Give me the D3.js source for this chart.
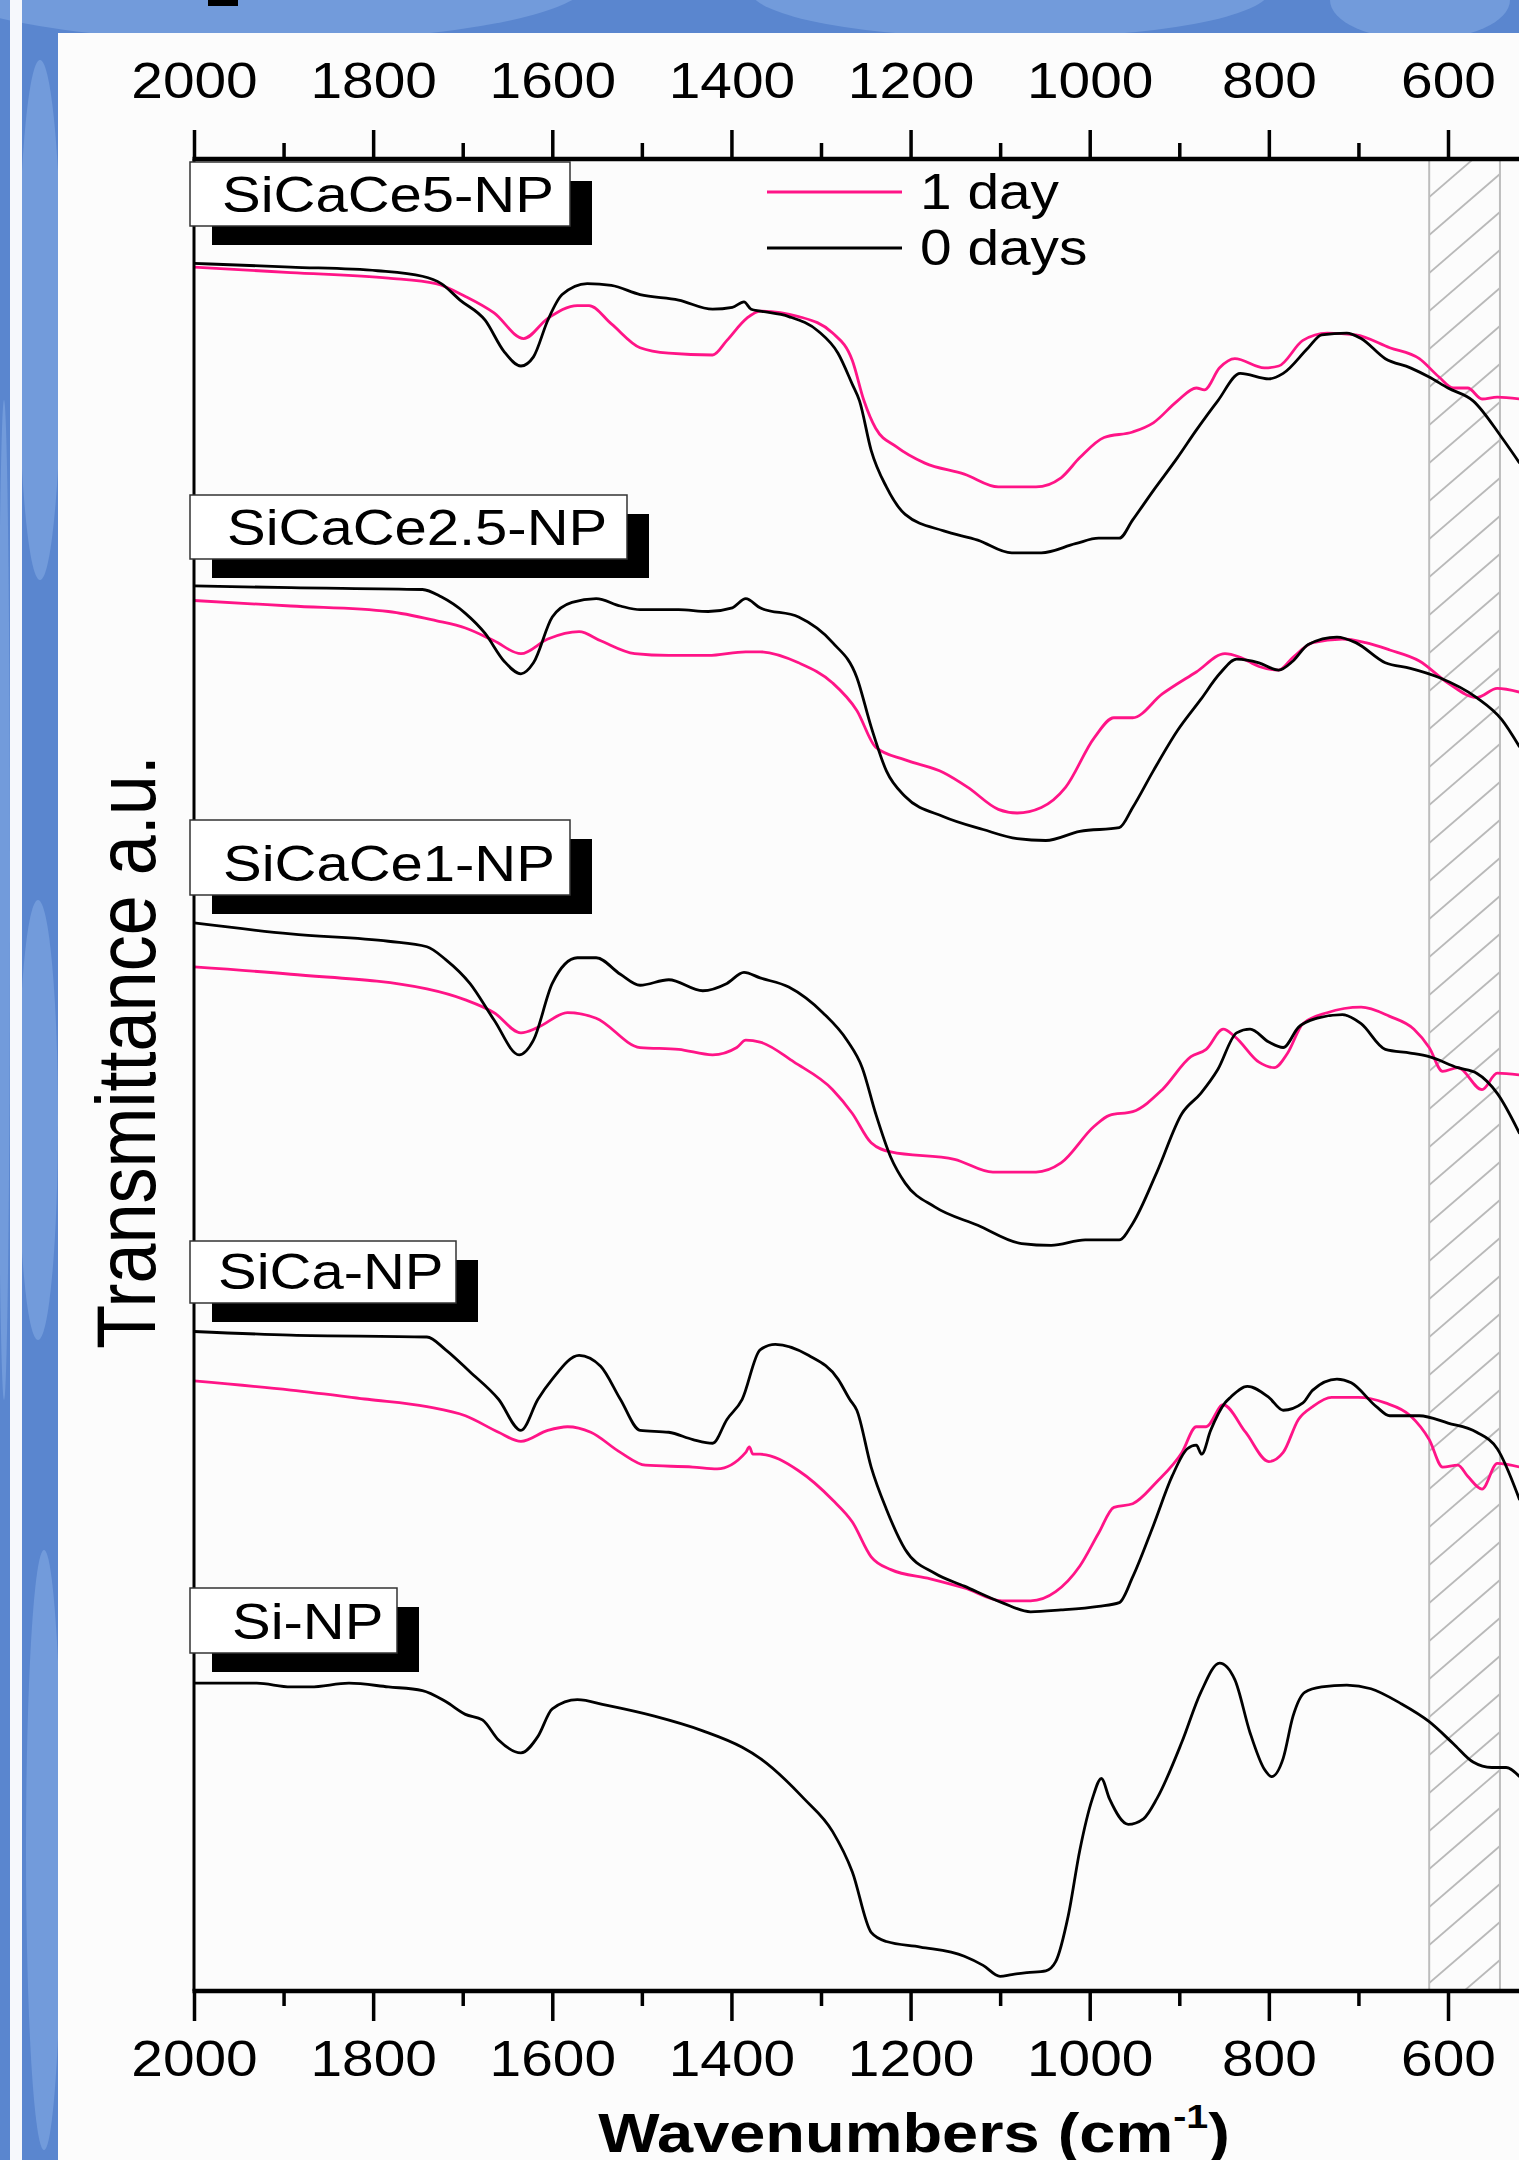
<!DOCTYPE html>
<html>
<head>
<meta charset="utf-8">
<script src="https://cdn.jsdelivr.net/npm/d3@7"></script>
<style>
    html, body { margin: 0; padding: 0; background: #5a86cf; }
    svg { display: block; }
</style>
</head>
<body>
<div id="container"></div>
<script>
// axis ticks (wavenumbers, cm-1)
const majorTicks = [2000, 1800, 1600, 1400, 1200, 1000, 800, 600];
const minorTicks = [1900, 1700, 1500, 1300, 1100, 900, 700];
const seriesNames = ['1 day', '0 days'];
const sampleNames = ['SiCaCe5-NP', 'SiCaCe2.5-NP', 'SiCaCe1-NP', 'SiCa-NP', 'Si-NP'];
const hatchRange = [621, 542];

// spectra: [wavenumber, transmittance a.u.] (stacked with offsets, as in the figure)
const sicace5Day0 = [[2000,94.3],[1892,94.1],[1795,93.9],[1745,93.6],[1724,93.2],[1703,92.3],[1675,91.2],[1654,89.5],[1635,88.7],[1621,89.2],[1605,91.2],[1589,92.6],[1561,93.2],[1534,93.1],[1502,92.6],[1459,92.3],[1421,91.8],[1399,91.9],[1386,92.2],[1378,91.8],[1368,91.7],[1336,91.4],[1303,90.6],[1281,89.4],[1265,87.7],[1257,86.8],[1244,84.1],[1227,82.1],[1206,80.6],[1163,79.7],[1125,79.2],[1087,78.5],[1054,78.5],[1016,79.0],[990,79.3],[967,79.3],[952,80.3],[929,81.9],[902,83.7],[881,85.2],[857,86.8],[832,88.3],[800,88.0],[784,88.3],[756,89.7],[741,90.4],[713,90.5],[697,90.2],[670,89.1],[642,88.6],[621,88.1],[600,87.5],[572,86.8],[540,84.8],[520,83.4]];
const sicace5Day1 = [[2000,94.1],[1892,93.8],[1783,93.5],[1730,93.2],[1697,92.5],[1665,91.6],[1632,90.2],[1605,91.3],[1572,92.0],[1559,92.0],[1534,91.0],[1502,89.7],[1470,89.4],[1421,89.3],[1405,90.1],[1383,91.3],[1368,91.7],[1325,91.4],[1287,90.5],[1265,89.0],[1252,86.8],[1239,85.3],[1216,84.3],[1184,83.4],[1140,82.8],[1102,82.1],[1060,82.1],[1032,82.6],[1011,83.7],[984,84.8],[952,85.1],[929,85.6],[902,86.8],[881,87.5],[872,87.4],[855,88.6],[838,89.1],[805,88.6],[789,88.7],[762,90.1],[735,90.5],[703,90.4],[665,89.7],[632,89.1],[610,88.1],[594,87.5],[578,87.5],[562,86.9],[545,87.0],[520,86.9]];

const sicace25Day0 = [[2000,76.7],[1892,76.6],[1745,76.5],[1724,76.1],[1697,75.2],[1675,74.1],[1654,72.6],[1635,71.9],[1621,72.5],[1600,75.0],[1578,75.8],[1551,76.0],[1524,75.6],[1502,75.4],[1459,75.4],[1426,75.3],[1399,75.5],[1384,76.0],[1368,75.5],[1325,75.0],[1287,73.6],[1260,71.7],[1244,69.0],[1227,66.6],[1206,65.2],[1163,64.1],[1119,63.4],[1081,62.9],[1049,62.8],[1011,63.3],[967,63.5],[952,64.6],[929,66.6],[902,68.8],[876,70.5],[855,71.9],[836,72.7],[811,72.5],[789,72.1],[773,72.6],[756,73.5],[724,73.9],[703,73.6],[670,72.5],[642,72.2],[610,71.7],[568,70.6],[540,69.4],[520,67.9]];
const sicace25Day1 = [[2000,75.9],[1892,75.6],[1783,75.3],[1730,74.8],[1697,74.4],[1665,73.7],[1635,73.0],[1605,73.8],[1570,74.2],[1546,73.7],[1508,73.0],[1470,72.9],[1426,72.9],[1384,73.1],[1368,73.1],[1325,72.5],[1287,71.4],[1260,69.9],[1239,67.9],[1206,67.2],[1163,66.5],[1136,65.7],[1102,64.5],[1081,64.3],[1054,64.6],[1027,65.7],[995,68.4],[973,69.5],[952,69.5],[919,70.8],[881,72.0],[849,73.0],[832,72.8],[811,72.3],[789,72.1],[773,72.8],[751,73.6],[718,73.8],[692,73.6],[665,73.2],[632,72.6],[600,71.4],[568,70.6],[545,71.1],[520,70.9]];

const sicace1Day0 = [[2000,58.3],[1892,57.7],[1783,57.3],[1740,57.0],[1719,56.3],[1692,55.0],[1665,53.0],[1637,51.1],[1621,51.9],[1600,55.0],[1572,56.4],[1551,56.4],[1524,55.5],[1502,54.9],[1470,55.2],[1432,54.6],[1405,55.0],[1386,55.6],[1368,55.3],[1336,54.8],[1298,53.4],[1271,51.9],[1254,50.4],[1239,47.9],[1222,45.5],[1206,44.1],[1173,42.8],[1125,41.8],[1076,40.8],[1043,40.7],[1005,41.0],[967,41.0],[952,41.9],[925,44.7],[897,47.9],[876,49.0],[857,50.3],[836,52.3],[821,52.5],[800,51.8],[784,51.5],[767,52.6],[746,53.1],[718,53.3],[697,52.8],[670,51.4],[642,51.2],[621,51.0],[589,50.4],[568,50.1],[545,49.0],[520,46.8]];
const sicace1Day1 = [[2000,55.9],[1892,55.5],[1740,54.7],[1697,54.1],[1665,53.4],[1635,52.3],[1616,52.6],[1583,53.4],[1551,53.1],[1502,51.5],[1459,51.4],[1421,51.1],[1394,51.5],[1384,51.9],[1368,51.8],[1330,50.7],[1287,49.2],[1265,47.9],[1244,46.3],[1222,45.8],[1151,45.4],[1108,44.7],[1060,44.7],[1032,45.2],[995,47.2],[978,47.8],[952,48.0],[919,49.2],[887,51.0],[870,51.4],[851,52.5],[838,52.1],[811,50.7],[794,50.4],[779,51.2],[762,52.8],[735,53.4],[697,53.7],[665,53.2],[638,52.5],[621,51.5],[606,50.2],[589,50.4],[562,49.2],[545,50.1],[520,50.0]];

const sicaDay0 = [[2000,36.0],[1892,35.8],[1740,35.7],[1719,35.0],[1692,33.8],[1660,32.3],[1635,30.6],[1616,32.3],[1600,33.4],[1570,34.7],[1546,34.1],[1524,32.3],[1502,30.6],[1470,30.5],[1443,30.1],[1421,29.9],[1405,31.2],[1388,32.3],[1368,35.0],[1351,35.3],[1314,34.7],[1281,33.4],[1268,32.3],[1260,31.7],[1244,28.6],[1227,26.3],[1206,24.1],[1173,22.8],[1140,22.1],[1098,21.2],[1066,20.7],[1032,20.8],[990,21.0],[967,21.2],[952,22.6],[929,25.4],[908,28.1],[891,29.6],[881,29.8],[875,29.3],[865,30.6],[849,32.1],[843,32.4],[824,33.0],[800,32.4],[784,31.7],[762,32.1],[751,32.8],[724,33.4],[708,33.2],[680,31.9],[665,31.4],[632,31.4],[600,31.0],[568,30.5],[545,29.6],[520,26.8]];
const sicaDay1 = [[2000,33.3],[1892,32.8],[1806,32.3],[1740,31.9],[1697,31.4],[1660,30.5],[1635,30.0],[1605,30.6],[1583,30.8],[1557,30.5],[1524,29.4],[1496,28.7],[1443,28.6],[1416,28.5],[1384,29.4],[1380,29.7],[1376,29.3],[1368,29.3],[1325,28.4],[1287,26.8],[1265,25.6],[1244,23.7],[1222,23.0],[1178,22.5],[1140,22.0],[1098,21.3],[1066,21.3],[1038,21.8],[1011,23.2],[990,25.0],[973,26.4],[952,26.6],[925,27.8],[897,29.4],[881,30.8],[870,30.8],[851,32.0],[826,30.5],[800,28.9],[784,29.4],[767,31.2],[751,31.9],[730,32.4],[700,32.4],[670,32.1],[642,31.4],[621,30.1],[606,28.6],[589,28.7],[578,28.1],[562,27.4],[545,28.8],[520,28.6]];

const siDay0 = [[2000,16.8],[1930,16.8],[1892,16.6],[1870,16.6],[1827,16.8],[1783,16.6],[1745,16.4],[1719,15.8],[1697,15.1],[1678,14.8],[1660,13.7],[1635,13.0],[1616,13.9],[1600,15.4],[1572,15.9],[1540,15.6],[1486,15.0],[1432,14.2],[1388,13.3],[1368,12.7],[1319,10.5],[1287,8.7],[1265,6.5],[1244,3.2],[1227,2.7],[1189,2.4],[1140,1.9],[1119,1.4],[1100,0.8],[1087,0.9],[1070,1.0],[1049,1.1],[1038,1.6],[1024,4.1],[1011,7.7],[997,10.5],[987,11.6],[978,10.5],[957,9.1],[940,9.4],[925,10.5],[897,13.6],[876,16.3],[855,17.9],[838,17.0],[821,14.1],[805,12.1],[797,11.7],[784,12.7],[773,15.0],[760,16.3],[741,16.6],[713,16.7],[686,16.5],[653,15.7],[621,14.7],[594,13.5],[572,12.5],[551,12.2],[535,12.2],[520,11.7]];

const day1Series = [sicace5Day1, sicace25Day1, sicace1Day1, sicaDay1, null];
const day0Series = [sicace5Day0, sicace25Day0, sicace1Day0, sicaDay0, siDay0];

const w = 1519;
const h = 2160;
const margin = { left: 194, top: 159, bottom: 1991 };
const pink = '#ff1487';
const font = '"Liberation Sans", Arial, sans-serif';
const stretch = 'scale(1.16,1)';

const svg = d3.select('#container').append('svg')
    .attr('width', w)
    .attr('height', h);

// slide background
const bg = svg.append('g');
bg.append('rect').attr('width', w).attr('height', h).attr('fill', '#5a86cf');
[[260, -20, 330, 62], [1010, -10, 260, 48], [1420, 0, 90, 40], [40, 320, 22, 260], [38, 1120, 20, 220], [44, 1850, 18, 300], [4, 900, 6, 500]]
    .forEach(([cx, cy, rx, ry]) => {
        bg.append('ellipse')
            .attr('cx', cx).attr('cy', cy).attr('rx', rx).attr('ry', ry)
            .attr('fill', '#729bdb');
    });
bg.append('rect').attr('x', 10).attr('y', 0).attr('width', 12).attr('height', h).attr('fill', '#f6f8fc');
bg.append('rect').attr('x', 208).attr('y', 0).attr('width', 30).attr('height', 6).attr('fill', '#000');
bg.append('rect').attr('x', 58).attr('y', 33).attr('width', w - 58).attr('height', h - 33).attr('fill', '#fcfcfc');

const x = d3.scaleLinear()
    .domain([2000, 600])
    .range([margin.left, 1448]);

const y = d3.scaleLinear()
    .domain([0, 100])
    .range([margin.bottom, margin.top]);

// hatched band
const bandX0 = x(hatchRange[0]);
const bandX1 = x(hatchRange[1]);
svg.append('clipPath').attr('id', 'band-clip')
    .append('rect')
    .attr('x', bandX0).attr('y', margin.top)
    .attr('width', bandX1 - bandX0).attr('height', margin.bottom - margin.top);

const band = svg.append('g').attr('clip-path', 'url(#band-clip)');
band.selectAll('line')
    .data(d3.range(margin.top, margin.bottom + 80, 38))
    .join('line')
    .attr('x1', bandX0).attr('y1', d => d)
    .attr('x2', bandX1).attr('y2', d => d - 61)
    .attr('stroke', '#b9b9b9')
    .attr('stroke-width', 1.8);

svg.append('rect')
    .attr('x', bandX0).attr('y', margin.top)
    .attr('width', bandX1 - bandX0).attr('height', margin.bottom - margin.top)
    .attr('fill', 'none')
    .attr('stroke', '#bdbdbd')
    .attr('stroke-width', 2);

// spectra
const line = d3.line()
    .x(d => x(d[0]))
    .y(d => y(d[1]))
    .curve(d3.curveMonotoneX);

const curves = svg.append('g').attr('class', 'curves');

curves.selectAll('path.day1')
    .data(day1Series.filter(d => d))
    .join('path')
    .attr('class', 'day1')
    .attr('d', line)
    .attr('fill', 'none')
    .attr('stroke', pink)
    .attr('stroke-width', 2.8);

curves.selectAll('path.day0')
    .data(day0Series)
    .join('path')
    .attr('class', 'day0')
    .attr('d', line)
    .attr('fill', 'none')
    .attr('stroke', '#000')
    .attr('stroke-width', 2.8);

// axes
const styleAxis = (g, size) => {
    g.select('.domain').remove();
    g.selectAll('.tick line').attr('stroke', '#000').attr('stroke-width', 3.5);
    g.selectAll('text')
        .attr('fill', '#000')
        .attr('font-size', size)
        .attr('font-family', font)
        .attr('transform', stretch);
};

svg.append('g')
    .attr('transform', `translate(0, ${margin.top})`)
    .call(d3.axisTop(x).tickValues(majorTicks).tickSize(29).tickPadding(32).tickFormat(d3.format('d')))
    .call(g => styleAxis(g, 49));

svg.append('g')
    .attr('transform', `translate(0, ${margin.top})`)
    .call(d3.axisTop(x).tickValues(minorTicks).tickSize(16).tickFormat(''))
    .call(g => styleAxis(g, 49));

svg.append('g')
    .attr('transform', `translate(0, ${margin.bottom})`)
    .call(d3.axisBottom(x).tickValues(majorTicks).tickSize(30).tickPadding(20).tickFormat(d3.format('d')))
    .call(g => styleAxis(g, 49));

svg.append('g')
    .attr('transform', `translate(0, ${margin.bottom})`)
    .call(d3.axisBottom(x).tickValues(minorTicks).tickSize(15).tickFormat(''))
    .call(g => styleAxis(g, 49));

svg.append('line')
    .attr('x1', margin.left).attr('x2', margin.left)
    .attr('y1', margin.top).attr('y2', margin.bottom)
    .attr('stroke', '#000').attr('stroke-width', 3);

[margin.top, margin.bottom].forEach(yy => {
    svg.append('line')
        .attr('x1', margin.left - 1.5).attr('x2', w)
        .attr('y1', yy).attr('y2', yy)
        .attr('stroke', '#000').attr('stroke-width', 4.5);
});

// sample labels with drop shadow
const labelBoxes = [
    { top: 162, h: 64, w: 380, tx: 222 },
    { top: 495, h: 64, w: 437, tx: 227 },
    { top: 820, h: 75, w: 380, tx: 223 },
    { top: 1241, h: 62, w: 266, tx: 218 },
    { top: 1588, h: 65, w: 207, tx: 232 }
];

const labels = svg.append('g').attr('class', 'labels');
sampleNames.forEach((name, i) => {
    const b = labelBoxes[i];
    labels.append('rect')
        .attr('x', 190 + 22).attr('y', b.top + 19)
        .attr('width', b.w).attr('height', b.h)
        .attr('fill', '#000');
    labels.append('rect')
        .attr('x', 190).attr('y', b.top)
        .attr('width', b.w).attr('height', b.h)
        .attr('fill', '#fff')
        .attr('stroke', '#333')
        .attr('stroke-width', 1.5);
    labels.append('text')
        .attr('transform', `translate(${b.tx}, ${b.top + b.h - 14}) ${stretch}`)
        .attr('font-family', font)
        .attr('font-size', 50)
        .attr('fill', '#000')
        .text(name);
});

// legend
const legend = svg.append('g').attr('class', 'legend');
seriesNames.forEach((name, i) => {
    const ly = 192 + i * 56;
    legend.append('line')
        .attr('x1', 767).attr('x2', 902)
        .attr('y1', ly).attr('y2', ly)
        .attr('stroke', i === 0 ? pink : '#000')
        .attr('stroke-width', 2.8);
    legend.append('text')
        .attr('transform', `translate(920, ${ly + 17}) ${stretch}`)
        .attr('font-family', font)
        .attr('font-size', 49)
        .attr('fill', '#000')
        .text(name);
});

// axis titles
const xTitle = svg.append('text')
    .attr('transform', `translate(914, 2152) ${stretch}`)
    .attr('text-anchor', 'middle')
    .attr('font-family', font)
    .attr('font-size', 56)
    .attr('font-weight', 'bold')
    .attr('fill', '#000');
xTitle.append('tspan').text('Wavenumbers (cm');
xTitle.append('tspan').attr('font-size', 34).attr('dy', -24).text('-1');
xTitle.append('tspan').attr('dy', 24).text(')');

svg.append('text')
    .attr('transform', `translate(155, 1052) ${stretch} rotate(-90)`)
    .attr('text-anchor', 'middle')
    .attr('font-family', font)
    .attr('font-size', 72)
    .attr('fill', '#000')
    .text('Transmittance a.u.');
</script>
</body>
</html>
